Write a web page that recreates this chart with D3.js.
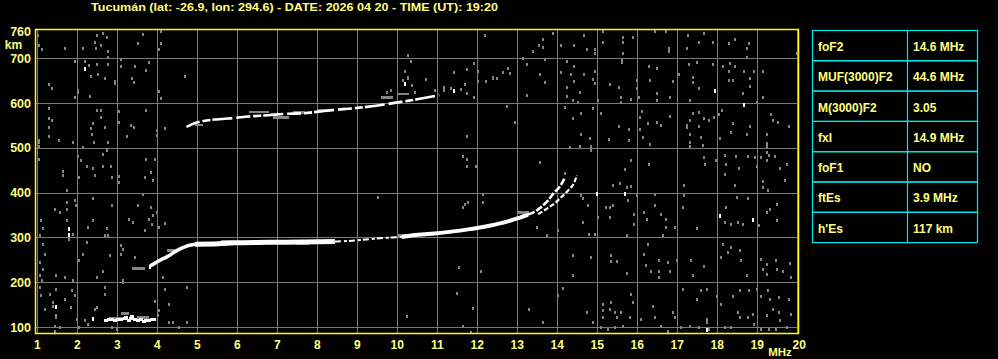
<!DOCTYPE html>
<html>
<head>
<meta charset="utf-8">
<script src="https://cdn.jsdelivr.net/npm/d3@7"></script>
<style>
html,body{margin:0;padding:0;background:#000;}
svg{display:block;}
text{font-family:"Liberation Sans",Arial,sans-serif;font-weight:bold;}
</style>
</head>
<body>
<svg id="chart" width="998" height="359"></svg>
<script>
// ---------- data ----------
const titleText = "Tucumán (lat: -26.9, lon: 294.6) - DATE: 2026 04 20 - TIME (UT): 19:20";
const freqTicks = [1,2,3,4,5,6,7,8,9,10,11,12,13,14,15,16,17,18,19,20];
const heightTicks = [100,200,300,400,500,600,700];
const heightLabels = [100,200,300,400,500,600,700,760];
const paramNames = ["foF2","MUF(3000)F2","M(3000)F2","fxI","foF1","ftEs","h'Es"];
const paramValues = ["14.6 MHz","44.6 MHz","3.05","14.9 MHz","NO","3.9 MHz","117 km"];

// F-layer ordinary trace [MHz, km]
const fTraceO = [[3.82,236],[4.11,251],[4.23,256],[4.32,261],[4.44,268],[4.61,276],[4.78,282],[4.94,285],
 [5.53,286],[5.94,288],[6.78,289],[7.61,290],[8.44,291],[8.94,293],[9.28,296],[9.69,299],[10.11,301],
 [10.52,306],[10.93,309],[11.35,313],[11.77,318],[12.18,324],[12.6,332],[13.02,343],[13.27,351],
 [13.43,357],[13.6,368],[13.77,383],[13.93,401],[14.06,413],[14.19,434]];
// F-layer extraordinary branch
const fTraceX = [[13.52,352],[13.77,366],[13.93,376],[14.1,390],[14.27,405],[14.43,424],[14.49,439]];
// Second-hop F trace
const fTrace2 = [[4.73,547],[4.93,555],[5.15,560],[5.53,564],[5.94,567],[6.28,570],[6.78,573],[7.19,576],[7.61,577],
 [8.03,581],[8.44,585],[8.86,588],[9.28,592],[9.69,597],[10.11,603],[10.53,609],[10.77,613],[11.05,618]];
// Sporadic-E echoes
const esEchoes = [[2.72,115],[2.8,117],[2.88,118],[2.95,116],[3.02,118],[3.1,117],[3.18,119],[3.22,122],
 [3.28,116],[3.33,119],[3.38,125],[3.45,117],[3.52,115],[3.6,118],[3.66,114],[3.73,116],[3.8,115],[3.86,117],[3.91,118]];
// Grey echo patches along traces [MHz from, MHz to, km]
const echoPatches = [[6.3,6.8,581],[6.9,7.3,568],[7.4,7.7,580],[8.0,8.3,585],[9.6,9.9,613],[10.0,10.3,621],
 [3.36,3.7,231],[4.25,4.5,271],[5.6,5.9,292],[6.4,6.6,292],[7.5,7.8,287],[10.0,10.4,305],
 [2.78,3.2,121],[3.1,3.3,131],[3.5,3.8,122],[13.0,13.3,356],[4.95,5.15,552]];
// Isolated bright specks
const whiteSpecks = [[2.19,678],[10.2,644],[11.43,629],[17.93,629],[18.68,597],[1.78,320],[1.78,308],[1.48,148],
 [15.68,399],[15.0,399],[18.06,349],[18.89,342],[3.82,236],[17.73,96],[2.38,120]];
// Noise echoes [MHz, km]
const noise = [
 [1.02,752],[1.03,730],[1.12,721],[1.69,724],[2.13,724],[2.44,737],[2.5,752],[2.63,756],[2.73,747],[2.6,730],
 [2.46,722],[2.78,716],[2.76,702],[3.63,754],[3.53,734],[4.08,761],[4.08,734],[4.04,721],
 [1.94,693],[2.18,693],[2.3,684],[2.5,687],[2.78,687],[2.33,660],[2.53,665],[2.7,656],[2.94,649],[2.94,645],
 [3.1,698],[3.1,683],[3.43,683],[3.78,692],[3.73,674],[3.38,655],[3.42,646],[4.69,660],[1.28,642],[1.37,633],
 [2.02,629],[2.02,625],[1.94,613],[2.32,616],[4.03,626],[4.08,611],[10.28,707],[10.34,693],[10.19,672],
 [10.28,659],[10.28,655],[10.13,652],[10.36,640],[10.44,625],[9.75,625],[9.85,629],
 [1.28,588],[1.28,566],[1.37,562],[1.29,547],[1.29,526],[1.03,517],[1.03,513],[1.03,504],[1.53,517],[1.88,514],
 [2.15,503],[2.48,584],[2.58,584],[2.58,570],[2.38,555],[2.35,544],[2.7,547],[2.36,530],[2.42,514],[2.77,512],
 [3.03,582],[3.04,557],[3.34,552],[3.42,547],[3.23,526],[3.73,584],[4.0,540],[4.0,529],[4.19,544],
 [1.03,476],[2.02,482],[2.08,473],[2.23,459],[2.4,455],[2.65,487],[2.65,460],[2.74,495],[2.84,460],[2.88,434],
 [3.03,437],[2.44,439],[1.65,448],[1.65,439],[2.03,435],[3.73,476],[3.94,476],[3.84,445],[3.69,434],[3.9,428],
 [12.18,752],[13.89,756],[13.64,742],[13.53,730],[13.39,716],[13.64,726],[14.08,730],[14.43,730],[14.68,752],
 [14.75,720],[14.93,721],[14.93,711],[15.14,761],[15.14,737],[15.64,747],[15.64,737],[15.89,747],[15.64,711],
 [16.43,761],[16.73,761],[16.78,724],[16.78,716],[17.27,752],[17.25,724],[17.53,737],[17.68,756],[17.89,737],
 [18.28,734],[18.43,743],[18.78,734],[18.74,724],[18.74,704],[19.99,711],
 [13.14,701],[13.23,687],[11.93,690],[11.75,676],[12.02,672],[11.43,670],[12.39,659],[12.39,655],[12.48,655],
 [12.64,670],[12.78,678],[12.81,668],[12.23,650],[12.02,650],[11.68,642],[11.58,631],[11.35,633],[11.18,637],
 [11.18,629],[10.93,629],[10.72,654],[11.75,622],[11.93,614],
 [13.68,698],[13.58,665],[13.68,646],[13.24,618],[14.23,694],[14.43,683],[14.1,670],[14.33,666],[14.23,637],
 [14.58,624],[14.43,650],[14.68,665],[14.93,672],[14.88,654],[14.93,644],[14.23,616],[14.39,607],[14.53,603],
 [15.02,607],[15.32,642],[15.53,636],[15.63,697],[15.63,691],[15.58,613],[15.58,603],[15.85,609],[15.98,652],
 [15.98,633],[16.03,614],[16.28,683],[16.48,679],[16.33,652],[16.48,622],[16.48,608],[16.83,614],[16.89,649],
 [17.04,665],[17.29,687],[17.48,692],[17.39,659],[17.39,648],[17.53,633],[17.33,608],[17.89,687],[18.14,683],
 [18.32,690],[18.43,683],[18.28,672],[18.29,652],[18.39,652],[18.68,672],[18.93,672],[19.14,672],[18.83,655],
 [18.83,639],[18.64,622],[19.14,614],[18.99,603],
 [14.18,592],[14.6,578],[14.39,566],[14.89,588],[15.08,578],[12.74,593],[12.93,557],[11.75,527],[15.54,549],
 [15.79,543],[16.06,570],[16.12,582],[16.08,543],[16.27,555],[16.48,557],[16.6,552],[16.83,572],[17.25,550],
 [17.25,546],[17.31,562],[17.39,577],[17.53,579],[17.53,549],[17.33,530],[17.6,525],[17.67,567],[17.78,562],
 [17.92,570],[18.04,575],[18.13,584],[18.39,555],[18.34,536],[18.73,530],[18.83,549],[19.35,575],[19.39,562],
 [19.52,557],[19.78,549],[19.24,530],[19.24,510],[19.24,505],[14.6,530],[14.83,521],[14.58,504],[14.85,505],
 [15.29,519],[15.79,517],[16.14,525],[16.33,508],[17.33,514],[17.33,504],[17.64,506],[18.08,521],
 [11.64,482],[11.75,476],[11.75,459],[11.98,459],[13.58,468],[14.18,444],[14.31,503],[14.85,495],[15.85,473],
 [15.68,453],[16.29,463],[17.68,480],[17.69,464],[17.96,473],[18.18,485],[18.21,464],[18.46,482],[18.54,454],
 [18.18,441],[18.77,482],[18.94,480],[19.1,480],[19.25,490],[19.28,485],[19.43,482],[19.25,473],[18.99,460],
 [19.58,454],[19.74,463],[19.68,428],[19.14,427],
 [1.73,405],[1.73,379],[1.73,364],[1.94,383],[1.97,372],[1.44,363],[1.57,357],[1.08,338],[1.13,320],[1.07,305],
 [1.13,286],[1.19,264],[1.07,245],[1.15,230],[1.07,215],[1.11,204],[1.07,189],[1.09,171],[1.19,141],[1.48,126],
 [1.48,122],[1.44,103],[1.57,100],[1.32,174],[1.48,185],[1.69,163],[1.84,144],[1.94,171],[1.86,182],[1.73,338],
 [1.88,308],[1.78,297],[1.48,215],[1.69,211],[1.88,204],[2.03,249],[2.15,264],[2.23,290],[2.28,323],[2.4,387],
 [2.38,338],[2.49,211],[2.65,226],[2.73,320],[2.78,305],[2.69,305],[2.88,372],[3.03,424],[3.09,282],[3.13,275],
 [3.09,264],[3.15,204],[3.15,200],[2.82,260],[3.44,256],[3.29,342],[3.53,372],[3.63,398],[3.4,334],[3.68,316],
 [3.78,342],[3.87,331],[3.84,368],[3.89,349],[3.98,357],[4.03,323],[4.19,332],[4.15,211],[4.19,185],[2.69,189],
 [2.69,174],[2.44,141],[2.5,144],[3.93,159],[4.03,137],[4.02,126],[4.28,152],[4.73,189],[4.53,100],[4.4,111],
 [4.28,111],[4.73,111],[9.53,390],[10.23,124],[2.86,100],[2.98,96],[2.28,107],[2.19,115],[1.98,118],[2.03,100],
 [1.44,92],[1.4,155],[1.4,148],
 [15.39,416],[15.56,422],[15.73,413],[15.83,414],[15.98,394],[16.43,398],[17.18,416],[17.18,394],[18.43,416],
 [19.14,413],[19.27,405],[14.6,394],[15.22,368],[15.39,372],[15.77,383],[15.93,353],[15.93,331],[15.73,305],
 [15.31,346],[16.18,357],[16.24,342],[16.43,372],[16.6,353],[16.73,342],[16.73,323],[16.64,305],[16.93,323],
 [17.14,368],[17.49,320],[18.23,368],[18.35,331],[18.52,334],[18.64,331],[19.03,327],[19.23,357],[19.33,364],
 [19.5,375],[19.5,338],[18.77,387],[18.5,390],[18.18,334],
 [16.27,286],[16.18,264],[16.21,238],[16.35,226],[16.53,249],[16.53,226],[16.53,211],[16.77,245],[16.81,226],
 [16.98,249],[17.35,249],[17.39,215],[17.68,237],[18.35,278],[18.27,267],[18.56,271],[18.6,249],[18.14,286],
 [18.1,256],[18.75,215],[19.1,252],[19.14,230],[19.23,219],[19.47,249],[19.5,230],[19.64,226],[19.83,243],
 [19.85,211],[19.23,241],[15.35,260],[15.35,247],[15.49,247],[14.85,256],[14.39,260],[14.39,215],[14.02,316],
 [13.73,306],[13.48,323],[14.78,308],[14.93,308],[15.02,346],[14.64,334],[14.64,387],[14.77,372],[15.31,369],
 [11.68,375],[11.77,379],[11.64,368],[12.14,398],[12.14,379],[11.54,235],[12.1,226],[15.75,220],
 [14.14,188],[14.02,171],[11.5,176],[11.89,142],[13.29,141],[13.64,111],[11.64,102],[11.85,89],[14.73,133],
 [14.88,111],[15.13,152],[15.13,137],[15.14,122],[15.31,141],[15.35,156],[15.43,133],[15.48,122],[15.6,133],
 [15.64,103],[15.08,100],[15.27,96],[15.43,100],[15.85,174],[15.89,156],[15.81,122],[16.1,118],[16.39,148],
 [16.43,122],[16.6,102],[16.77,92],[16.89,133],[16.93,122],[17.14,185],[17.1,100],[17.31,103],[17.48,163],
 [17.6,182],[17.73,185],[17.73,118],[17.73,112],[17.98,170],[18.1,152],[18.18,100],[18.39,170],[18.56,182],
 [18.79,182],[19.27,182],[19.0,185],[19.1,170],[19.31,163],[19.39,141],[19.53,167],[19.53,133],[19.56,115],
 [19.73,100],[19.1,96],[19.28,96],[19.47,96],[19.78,163],[19.85,130],[19.23,126],[18.93,107],[18.77,122],
 [18.52,133],[18.35,100],[17.8,96],[17.55,100],[18.56,122],[18.89,130]
];

// ---------- drawing ----------
const svg = d3.select("#chart");
const x = d3.scaleLinear().domain([1,20]).range([37.3,797.3]);
const y = d3.scaleLinear().domain([100,700]).range([327,58.3]);
const frame = {left:35.5, top:29.5, right:798.5, bottom:333.5};
const GRID = "#7a7a7a", YEL = "#ffff00", TXT = "#ffff80", NOISE = "#858585";

// title
svg.append("text").attr("x",91).attr("y",10.5).attr("fill",TXT)
  .attr("font-size",11.5).attr("textLength",407).attr("lengthAdjust","spacingAndGlyphs")
  .text(titleText);

const plot = svg.append("g");
// grid
plot.selectAll("line.v").data(freqTicks).join("line")
  .attr("x1",d=>Math.round(x(d))+0.5).attr("x2",d=>Math.round(x(d))+0.5)
  .attr("y1",frame.top).attr("y2",frame.bottom).attr("stroke",GRID).attr("stroke-width",1);
plot.selectAll("line.h").data(heightTicks).join("line")
  .attr("y1",d=>Math.round(y(d))+0.5).attr("y2",d=>Math.round(y(d))+0.5)
  .attr("x1",frame.left).attr("x2",frame.right).attr("stroke",GRID).attr("stroke-width",1);

// noise echoes
plot.append("g").selectAll("rect").data(noise).join("rect")
  .attr("x",d=>Math.round(x(d[0]))-1).attr("y",d=>Math.round(y(d[1]))-1)
  .attr("width",2).attr("height",3).attr("fill",NOISE).attr("shape-rendering","crispEdges");

// grey echo patches
plot.append("g").selectAll("rect").data(echoPatches).join("rect")
  .attr("x",d=>x(d[0])).attr("y",d=>y(d[2])-1)
  .attr("width",d=>x(d[1])-x(d[0])).attr("height",2.5).attr("fill",NOISE).attr("shape-rendering","crispEdges");

// traces
const line = d3.line().x(d=>x(d[0])).y(d=>y(d[1])).curve(d3.curveMonotoneX);
const part = (arr,a,b)=>arr.filter(d=>d[0]>=a && d[0]<=b);
const oStyles = [
  {a:3.8,b:4.95,w:3.5,dash:null},
  {a:4.94,b:8.44,w:5,dash:null},
  {a:8.44,b:10.11,w:2,dash:"6 3 3 2"},
  {a:10.11,b:13.27,w:4,dash:null},
  {a:13.27,b:14.2,w:2.6,dash:"7 2"}
];
oStyles.forEach(s=>{
  plot.append("path").datum(part(fTraceO,s.a,s.b)).attr("d",line).attr("fill","none")
    .attr("stroke","#fff").attr("stroke-width",s.w).attr("stroke-dasharray",s.dash);
});
plot.append("path").datum(fTraceX).attr("d",line).attr("fill","none")
  .attr("stroke","#fff").attr("stroke-width",2.2).attr("stroke-dasharray","5 2");
plot.append("path").datum(fTrace2).attr("d",line).attr("fill","none")
  .attr("stroke","#fff").attr("stroke-width",2.6).attr("stroke-dasharray","14 3 8 2 20 4");

plot.append("g").selectAll("rect").data(esEchoes).join("rect")
  .attr("x",d=>Math.round(x(d[0]))-2).attr("y",d=>Math.round(y(d[1]))-1)
  .attr("width",4).attr("height",3).attr("fill","#fff").attr("shape-rendering","crispEdges");
plot.append("g").selectAll("rect").data(whiteSpecks).join("rect")
  .attr("x",d=>Math.round(x(d[0]))-1).attr("y",d=>Math.round(y(d[1]))-1)
  .attr("width",2).attr("height",4).attr("fill","#fff").attr("shape-rendering","crispEdges");

// frame
svg.append("rect").attr("x",frame.left).attr("y",frame.top)
  .attr("width",frame.right-frame.left).attr("height",frame.bottom-frame.top)
  .attr("fill","none").attr("stroke",YEL).attr("stroke-width",1.5);

// y axis labels
svg.append("g").selectAll("text").data(heightLabels).join("text")
  .attr("x",31).attr("y",d=>y(d)).attr("dy","0.36em").attr("text-anchor","end")
  .attr("fill",TXT).attr("font-size",12.5).text(d=>d);
svg.append("text").attr("x",13.5).attr("y",49).attr("text-anchor","middle")
  .attr("fill",TXT).attr("font-size",12).text("km");

// x axis labels
svg.append("g").selectAll("text").data(freqTicks).join("text")
  .attr("x",d=>x(d)+(d===20?2:0)).attr("y",348.5).attr("text-anchor","middle")
  .attr("fill",TXT).attr("font-size",12).text(d=>d);
svg.append("text").attr("x",780).attr("y",356).attr("text-anchor","middle")
  .attr("fill",TXT).attr("font-size",11.5).text("MHz");

// parameter table
const tbl = {x0:812.5, x1:907.5, x2:977.5, y0:30.5, rowH:30.3};
const tg = svg.append("g");
const rows = paramNames.map((n,i)=>({name:n, value:paramValues[i], i}));
tg.selectAll("rect").data(rows).join("rect")
  .attr("x",tbl.x0).attr("y",d=>tbl.y0+d.i*tbl.rowH)
  .attr("width",tbl.x2-tbl.x0).attr("height",tbl.rowH)
  .attr("fill","none").attr("stroke","#00e8e8").attr("stroke-width",1.2);
tg.append("line").attr("x1",tbl.x1).attr("x2",tbl.x1).attr("y1",tbl.y0)
  .attr("y2",tbl.y0+7*tbl.rowH).attr("stroke","#00e8e8").attr("stroke-width",1.2);
tg.selectAll("text.n").data(rows).join("text")
  .attr("x",818).attr("y",d=>tbl.y0+d.i*tbl.rowH+tbl.rowH/2+1).attr("dy","0.36em")
  .attr("fill",TXT).attr("font-size",12).text(d=>d.name);
tg.selectAll("text.v").data(rows).join("text")
  .attr("x",913).attr("y",d=>tbl.y0+d.i*tbl.rowH+tbl.rowH/2+1).attr("dy","0.36em")
  .attr("fill",TXT).attr("font-size",12).text(d=>d.value);
</script>
</body>
</html>
